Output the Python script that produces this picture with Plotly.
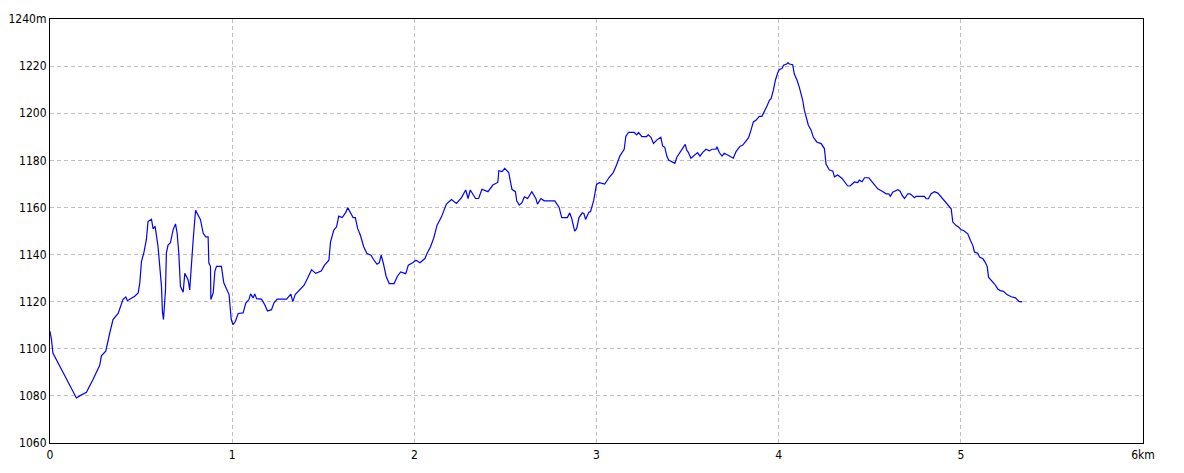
import plotly.graph_objects as go

distance_km = [
    0, 0.008, 0.016, 0.145, 0.163, 0.2, 0.236, 0.273, 0.282, 0.306, 0.328, 0.346, 0.374, 0.401,
    0.416, 0.425, 0.465, 0.484, 0.493, 0.502, 0.515, 0.529, 0.538, 0.557, 0.566, 0.577, 0.593,
    0.603, 0.612, 0.617, 0.623, 0.634, 0.639, 0.648, 0.661, 0.676, 0.689, 0.698, 0.707, 0.716,
    0.731, 0.74, 0.758, 0.767, 0.777, 0.786, 0.799, 0.813, 0.826, 0.841, 0.855, 0.868, 0.872,
    0.881, 0.883, 0.896, 0.905, 0.914, 0.941, 0.954, 0.969, 0.983, 0.995, 1.005, 1.018, 1.033,
    1.06, 1.075, 1.092, 1.101, 1.115, 1.124, 1.134, 1.161, 1.179, 1.194, 1.216, 1.229, 1.247,
    1.299, 1.322, 1.333, 1.346, 1.363, 1.395, 1.413, 1.436, 1.458, 1.489, 1.507, 1.531, 1.54,
    1.558, 1.573, 1.585, 1.604, 1.622, 1.635, 1.649, 1.664, 1.676, 1.689, 1.704, 1.722, 1.74,
    1.762, 1.776, 1.795, 1.807, 1.818, 1.831, 1.845, 1.862, 1.889, 1.907, 1.925, 1.953, 1.967,
    1.991, 2.009, 2.031, 2.058, 2.071, 2.089, 2.107, 2.125, 2.149, 2.176, 2.204, 2.231, 2.258,
    2.282, 2.295, 2.307, 2.336, 2.353, 2.371, 2.404, 2.431, 2.458, 2.464, 2.482, 2.496, 2.518,
    2.536, 2.555, 2.562, 2.576, 2.591, 2.604, 2.622, 2.645, 2.667, 2.676, 2.695, 2.713, 2.771,
    2.782, 2.795, 2.809, 2.84, 2.853, 2.864, 2.88, 2.891, 2.904, 2.922, 2.931, 2.94, 2.958,
    2.967, 2.985, 3.0, 3.016, 3.045, 3.07, 3.092, 3.11, 3.128, 3.152, 3.161, 3.176, 3.207,
    3.22, 3.231, 3.249, 3.275, 3.284, 3.299, 3.313, 3.332, 3.353, 3.363, 3.375, 3.386, 3.396,
    3.414, 3.43, 3.441, 3.458, 3.476, 3.487, 3.495, 3.505, 3.518, 3.537, 3.555, 3.568, 3.582,
    3.601, 3.619, 3.634, 3.656, 3.661, 3.674, 3.689, 3.701, 3.72, 3.738, 3.751, 3.766, 3.788,
    3.802, 3.817, 3.835, 3.848, 3.861, 3.875, 3.894, 3.908, 3.921, 3.934, 3.949, 3.958, 3.971,
    3.982, 3.995, 4.004, 4.018, 4.027, 4.044, 4.051, 4.059, 4.077, 4.086, 4.101, 4.114, 4.123,
    4.132, 4.141, 4.15, 4.163, 4.178, 4.19, 4.209, 4.233, 4.251, 4.26, 4.278, 4.297, 4.306,
    4.324, 4.348, 4.364, 4.379, 4.392, 4.416, 4.434, 4.443, 4.458, 4.471, 4.495, 4.513, 4.544,
    4.568, 4.59, 4.604, 4.613, 4.626, 4.654, 4.667, 4.678, 4.691, 4.709, 4.722, 4.746, 4.755,
    4.8, 4.81, 4.822, 4.837, 4.855, 4.874, 4.892, 4.916, 4.934, 4.947, 4.956, 4.974, 4.989,
    5.002, 5.015, 5.038, 5.053, 5.066, 5.075, 5.093, 5.103, 5.121, 5.134, 5.145, 5.152, 5.167,
    5.185, 5.203, 5.216, 5.234, 5.253, 5.277, 5.3, 5.319, 5.337,
]

elevation_m = [
    1107.4, 1104, 1098.2, 1079.1, 1080, 1081.5, 1087, 1093, 1097, 1099, 1106.7, 1112.4, 1115, 1121,
    1122, 1120.4, 1122.3, 1123.7, 1128, 1137, 1140.7, 1146.3, 1154, 1155, 1150.9, 1152, 1143.5,
    1135, 1126.5, 1116, 1112.4, 1125, 1140.7, 1144, 1145, 1150.6, 1153, 1149, 1140.7, 1126.5,
    1124, 1132, 1129.3, 1125, 1139, 1146.3, 1158.8, 1156.5, 1154.8, 1149, 1147.5, 1147.5, 1136.4,
    1135, 1120.9, 1123.7, 1132.9, 1135, 1135, 1128, 1125, 1123, 1112.4, 1110.2, 1111.7, 1115,
    1115.2, 1119.4, 1120.9, 1123.3, 1121.6, 1123.3, 1121.3, 1121.1, 1118.7, 1116, 1116.6, 1119.4, 1121.1,
    1121.1, 1123.2, 1120, 1123, 1124.4, 1127, 1129.8, 1133.6, 1132, 1133, 1135.5, 1137.6, 1145.4,
    1150.4, 1151.8, 1156.3, 1155.7, 1157.7, 1159.9, 1157.7, 1155.7, 1155.7, 1151, 1148.2, 1143.3, 1140.4,
    1139.7, 1137.9, 1135.9, 1136.5, 1139.7, 1135.9, 1130.8, 1127.7, 1127.7, 1130.8, 1132.6, 1131.9, 1135.5,
    1136.5, 1137.6, 1136.5, 1138.3, 1140.7, 1143.3, 1147.2, 1152.5, 1156, 1161.4, 1163.4, 1161.7, 1164.1,
    1167.4, 1163.8, 1167.4, 1163.8, 1163.8, 1167.7, 1166.7, 1169.5, 1170.6, 1175.6, 1175.2, 1176.6, 1174.8,
    1167.7, 1166.7, 1162.8, 1161, 1162, 1164.5, 1163.8, 1166.7, 1163.8, 1161.4, 1163.8, 1162.8, 1162.8,
    1161.7, 1160, 1155.7, 1155.7, 1157.7, 1155.3, 1149.9, 1151, 1155.7, 1157.7, 1157.4, 1154.9, 1158,
    1158.2, 1163.1, 1169.8, 1170.5, 1169.9, 1172.8, 1174.8, 1178, 1181.8, 1184.7, 1190.1, 1191.9, 1191.9,
    1190.8, 1191.8, 1190.1, 1190.1, 1190.8, 1189.8, 1187.2, 1188.7, 1189.8, 1186.1, 1185.5, 1181.8, 1180.1,
    1179.4, 1178.7, 1181.3, 1183.3, 1185.5, 1186.8, 1184.4, 1183.3, 1180.9, 1182.3, 1183.3, 1181.8, 1183.3,
    1184.7, 1184, 1184.7, 1184.7, 1185.8, 1183.3, 1181.8, 1183, 1182.3, 1181.6, 1180.9, 1183.7, 1186,
    1186.4, 1187.8, 1189.6, 1192.8, 1196.3, 1197, 1198.7, 1198.7, 1200.6, 1202.7, 1205.5, 1206.2, 1209.8,
    1214, 1217.2, 1218.6, 1219, 1220.4, 1220.9, 1221.4, 1220.9, 1220.6, 1216.6, 1214, 1210.9, 1208.4,
    1205.5, 1201.3, 1199.1, 1194.9, 1192.8, 1189.9, 1187.8, 1187.1, 1185, 1178.4, 1175.9, 1175.5, 1173,
    1173.8, 1172.3, 1170.5, 1169.1, 1169.1, 1170.8, 1170.6, 1171.6, 1170.9, 1172.6, 1172.6, 1170.8, 1167.9,
    1166.9, 1165.8, 1165.8, 1164.7, 1166.5, 1167.5, 1166.9, 1165.1, 1163.8, 1165.8, 1165.8, 1164.1, 1164.7,
    1164.7, 1163.7, 1163.7, 1165.8, 1166.7, 1166.1, 1164.4, 1162.3, 1160.9, 1159.4, 1153.8, 1152.3, 1151.6,
    1150.5, 1150.2, 1148.8, 1146, 1143.8, 1141, 1140.6, 1138.9, 1138.2, 1136.7, 1134.9, 1130.4, 1129.2,
    1127.5, 1125.4, 1124.7, 1124.4, 1123, 1122.1, 1121.6, 1120.1, 1119.9,
]

x_tick_vals = [0, 1, 2, 3, 4, 5, 6]
x_tick_text = ["0", "1", "2", "3", "4", "5", "6km"]
y_tick_vals = [1060, 1080, 1100, 1120, 1140, 1160, 1180, 1200, 1220, 1240]
y_tick_text = ["1060", "1080", "1100", "1120", "1140", "1160", "1180", "1200", "1220", "1240m"]

fig = go.Figure()
fig.add_trace(go.Scatter(
    x=distance_km, y=elevation_m, mode="lines",
    line=dict(color="#0000ff", width=1.2),
    hoverinfo="x+y", showlegend=False,
))

font = dict(family="Liberation Sans Narrow, Arial Narrow, DejaVu Sans Condensed, sans-serif",
            size=12, color="#000000")

# page body has an 8px default margin, so the figure is offset by 8px
fig.update_layout(
    width=1176, height=465,
    margin=dict(l=42, r=41, t=11, b=30, autoexpand=False),
    paper_bgcolor="white", plot_bgcolor="white",
    font=font,
    xaxis=dict(
        range=[0, 6], tickmode="array", tickvals=x_tick_vals, ticktext=x_tick_text,
        showgrid=True, gridcolor="#c0c0c0", griddash="4px,3px", gridwidth=1,
        showline=True, linecolor="black", linewidth=1.2, mirror=True,
        zeroline=False, ticks="", tickfont=font, automargin=False,
    ),
    yaxis=dict(
        range=[1060, 1240], tickmode="array", tickvals=y_tick_vals, ticktext=y_tick_text,
        showgrid=True, gridcolor="#c0c0c0", griddash="4px,3px", gridwidth=1,
        showline=True, linecolor="black", linewidth=1.2, mirror=True,
        zeroline=False, ticks="", tickfont=font, automargin=False,
    ),
)

fig.write_html("out.html")
